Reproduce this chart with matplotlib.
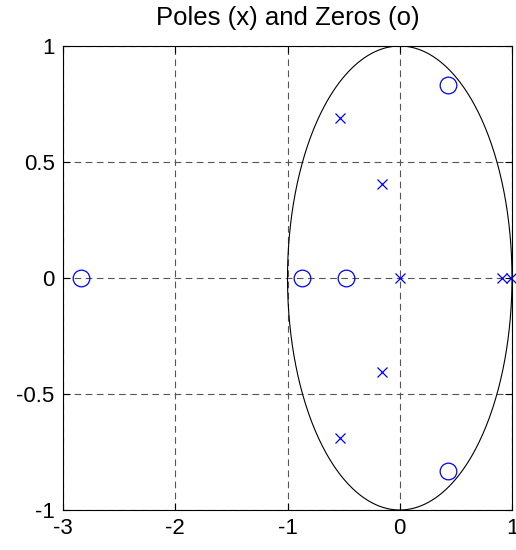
import numpy as np
import matplotlib
matplotlib.use("Agg")
import matplotlib.pyplot as plt

plt.rcParams['font.family'] = ['Liberation Sans', 'DejaVu Sans']

zeros_re = [-2.84, -0.875, -0.48, 0.43, 0.43]
zeros_im = [0.0, 0.0, 0.0, 0.83, -0.83]
poles_re = [-0.536, -0.536, -0.16, -0.16, 0.0, 0.91, 0.99]
poles_im = [0.69, -0.69, 0.406, -0.406, 0.0, 0.0, 0.0]

fig = plt.figure(figsize=(5.16, 5.5), dpi=100)
ax = fig.add_axes([63/516, 1-510/550, (512-63)/516, (510-46)/550])

th = np.linspace(0, 2*np.pi, 400)
ax.plot(np.cos(th), np.sin(th), color='black', lw=0.8, zorder=2)
ax.plot(zeros_re, zeros_im, 'o', mfc='none', mec='blue', ms=12, mew=0.9, zorder=3, clip_on=False)
ax.plot(poles_re, poles_im, 'x', color='blue', ms=7, mew=0.9, zorder=3, clip_on=False)

ax.set_xlim(-3, 1)
ax.set_ylim(-1, 1)
ax.set_xticks([-3, -2, -1, 0, 1])
ax.set_xticklabels(['-3', '-2', '-1', '0', '1'])
ax.set_yticks([-1, -0.5, 0, 0.5, 1])
ax.set_yticklabels(['-1', '-0.5', '0', '0.5', '1'])
ax.grid(True, color='#555555', linestyle=(0, (6, 4)), lw=0.8)
ax.tick_params(direction='in', top=True, right=True, labelsize=16, length=5, width=0.8, pad=6)
for s in ax.spines.values():
    s.set_linewidth(0.8)
ax.set_title('Poles (x) and Zeros (o)', fontsize=18.5, pad=15)

fig.savefig('out.png', dpi=100)
